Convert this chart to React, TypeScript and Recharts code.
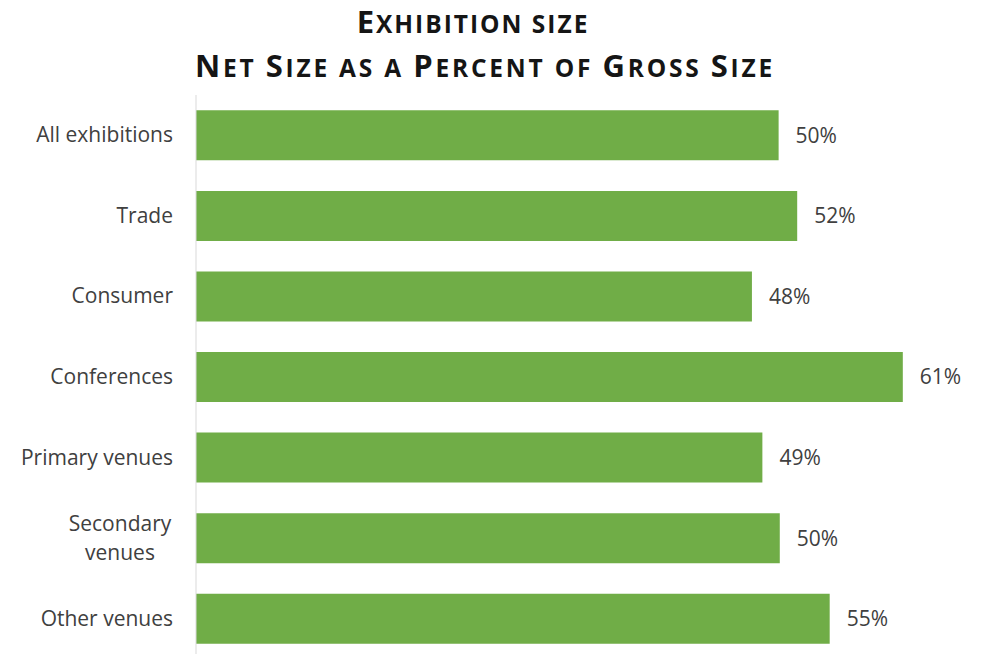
import { BarChart, Bar, XAxis, YAxis, LabelList } from "recharts";

const categories = [
  "All exhibitions",
  "Trade",
  "Consumer",
  "Conferences",
  "Primary venues",
  "Secondary\nvenues",
  "Other venues",
];
const netPercent = [50.2, 51.8, 47.9, 60.9, 48.8, 50.3, 54.6];

const titleLines = ["Exhibition size", "Net Size as a Percent of Gross Size"];

const data = categories.map((name, i) => ({ name, value: netPercent[i] }));

const FONT = "'Open Sans', 'Noto Sans', sans-serif";
const TEXT = "#404040";

// fake small caps: capitals stay big, lower case become smaller capitals
function SmallCaps({ text, x, y, big, small, spacing }: { text: string; x: number; y: number; big: number; small: number; spacing: number }) {
  const parts: { s: string; big: boolean }[] = [];
  for (const ch of text) {
    const isBig = ch !== " " && ch === ch.toUpperCase();
    const last = parts[parts.length - 1];
    if (last && last.big === isBig) last.s += ch;
    else parts.push({ s: ch, big: isBig });
  }
  return (
    <text x={x} y={y} textAnchor="middle" fontFamily={FONT} fontWeight={700} fill="#151515" letterSpacing={spacing}>
      {parts.map((p, i) => (
        <tspan key={i} fontSize={p.big ? big : small}>
          {p.s.toUpperCase()}
        </tspan>
      ))}
    </text>
  );
}

function CategoryTick(props: any) {
  const { x, y, payload } = props;
  const lines = String(payload.value).split("\n");
  if (lines.length === 1) {
    return (
      <text x={x} y={y} dy={7} textAnchor="end" fill={TEXT} fontSize={21} fontFamily={FONT}>
        {lines[0]}
      </text>
    );
  }
  return (
    <text x={x - 53} y={y} textAnchor="middle" fill={TEXT} fontSize={21} fontFamily={FONT}>
      {lines.map((l, i) => (
        <tspan key={i} x={x - 53} dy={i === 0 ? -7 : 29}>
          {l}
        </tspan>
      ))}
    </text>
  );
}

export default function App() {
  return (
    <div style={{ position: "relative", width: 981, height: 654, background: "#fff", overflow: "hidden" }}>
      <style>{`body{margin:0;overflow:hidden;}`}</style>
      <svg width={981} height={95} style={{ position: "absolute", top: 0, left: 0 }}>
        <SmallCaps text={titleLines[0]} x={473} y={33} big={31} small={24.5} spacing={2} />
        <SmallCaps text={titleLines[1]} x={485} y={77} big={31} small={24.5} spacing={2.8} />
      </svg>
      <BarChart
        width={981}
        height={660}
        data={data}
        layout="vertical"
        barCategoryGap="19%"
        margin={{ top: 95, right: 19, bottom: 1, left: 0 }}
      >
        <XAxis type="number" domain={[0, 66]} hide />
        <YAxis
          type="category"
          dataKey="name"
          width={196}
          axisLine={{ stroke: "#d9d9d9", strokeWidth: 1 }}
          tickLine={false}
          tickMargin={17}
          tick={<CategoryTick />}
          interval={0}
        />
        <Bar dataKey="value" fill="#70AD47" isAnimationActive={false}>
          <LabelList
            dataKey="value"
            position="right"
            offset={17}
            fill={TEXT}
            fontSize={21}
            fontFamily={FONT}
            formatter={(v: any) => `${Math.round(Number(v))}%`}
          />
        </Bar>
      </BarChart>
    </div>
  );
}
